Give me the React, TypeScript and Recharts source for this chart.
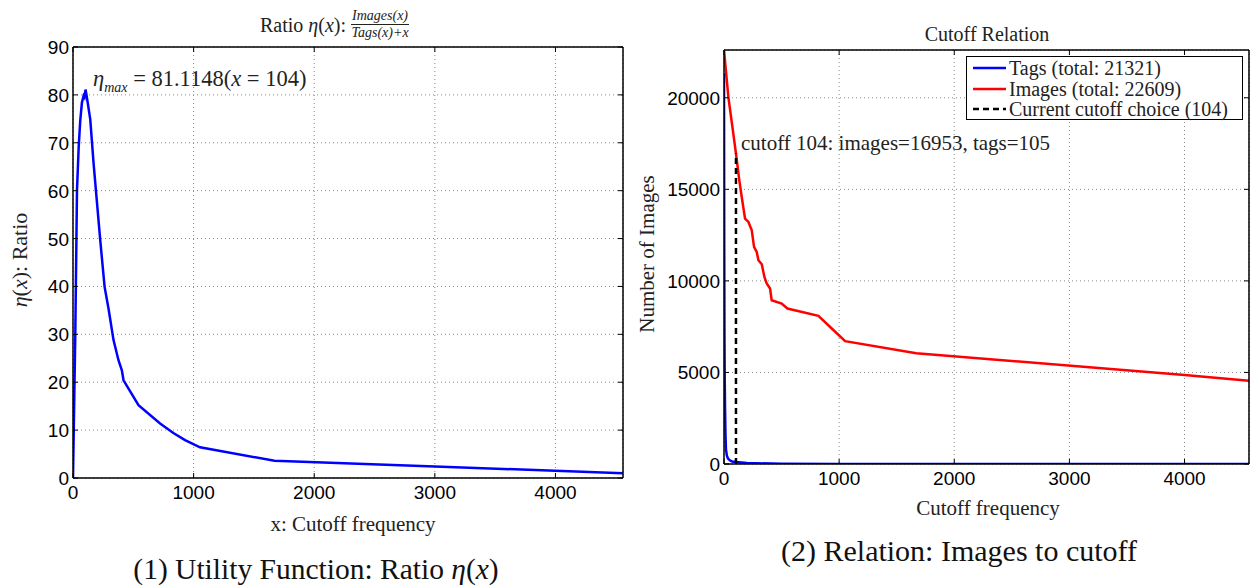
import React from 'react';
import { LineChart, Line, XAxis, YAxis, CartesianGrid } from 'recharts';

// shared x axis (cutoff frequency)
const X_MAX = 4560;
const X_TICKS = [0, 1000, 2000, 3000, 4000];

// (1) ratio eta(x) = Images(x) / (Tags(x) + x)
const RATIO_TICKS = [0, 10, 20, 30, 40, 50, 60, 70, 80, 90];
const RATIO_X = [0, 19, 33, 47, 60, 74, 88, 95, 104, 115, 143, 171, 226, 262, 295, 336, 377, 405, 419, 543, 722, 832, 929, 1053, 1670, 3000, 4560];
const RATIO_Y = [0, 30, 60, 69, 74.6, 78.4, 79.8, 79.5, 81.1148, 79.5, 74.9, 65.6, 49.6, 39.9, 35.3, 28.8, 24.6, 22.5, 20.4, 15.2, 11.4, 9.4, 7.9, 6.4, 3.6, 2.4, 1.0];

// (2) images and tags left after cutoff
const COUNT_MAX = 22609;
const COUNT_TICKS = [0, 5000, 10000, 15000, 20000];
const IMAGES_X = [0, 38, 81, 104, 133, 154, 183, 212, 241, 261, 284, 299, 328, 351, 371, 400, 414, 501, 551, 820, 936, 1052, 1670, 4000, 4560];
const IMAGES_Y = [22609, 20036, 18036, 16953, 15491, 14582, 13400, 13218, 12764, 11855, 11582, 11127, 10909, 10218, 9855, 9582, 8945, 8764, 8491, 8091, 7400, 6709, 6054, 4855, 4544];
const TAGS_X = [0, 2, 4, 6, 9, 13, 17, 25, 35, 50, 70, 104, 200, 500, 1000, 2000, 4560];
const TAGS_Y = [21321, 12000, 7000, 4800, 3100, 1600, 800, 450, 300, 200, 140, 105, 50, 15, 6, 2, 1];
const CUTOFF = 104;
const CUTOFF_IMAGES = 16953;
const CUTOFF_TAGS = 105;

const SERIF = '"Liberation Serif", "DejaVu Serif", serif';
const SANS = '"Liberation Sans", Arial, sans-serif';
const TICK_FONT = 19;

const zip = (xs: number[], ys: number[]) => xs.map((x, i) => ({ x, y: ys[i] }));
const ratioData = zip(RATIO_X, RATIO_Y);
const imagesData = zip(IMAGES_X, IMAGES_Y);
const tagsData = zip(TAGS_X, TAGS_Y);
const cutoffData = [
  { x: CUTOFF, y: 0 },
  { x: CUTOFF, y: CUTOFF_IMAGES },
];

// matlab style ticks: marks point into the box
const BottomTick = (props: any) => {
  const { x, y, payload } = props;
  return (
    <g>
      <line x1={x} x2={x} y1={y} y2={y - 5} stroke="#000" />
      <text x={x} y={y + 21} textAnchor="middle" fontFamily={SANS} fontSize={TICK_FONT} fill="#000">
        {payload.value}
      </text>
    </g>
  );
};
const LeftTick = (props: any) => {
  const { x, y, payload } = props;
  return (
    <g>
      <line x1={x} x2={x + 5} y1={y} y2={y} stroke="#000" />
      <text x={x - 4} y={y + 7} textAnchor="end" fontFamily={SANS} fontSize={TICK_FONT} fill="#000">
        {payload.value}
      </text>
    </g>
  );
};
const TopTick = (props: any) => <line x1={props.x} x2={props.x} y1={props.y} y2={props.y + 5} stroke="#000" />;
const RightTick = (props: any) => <line x1={props.x} x2={props.x - 5} y1={props.y} y2={props.y} stroke="#000" />;

const AXIS_LINE = { stroke: '#000', strokeWidth: 1.5 };

const axes = (yMax: number, yTicks: number[]) => [
  <CartesianGrid key="g" stroke="#8a8a8a" strokeDasharray="1 3" />,
  <XAxis key="xb" dataKey="x" type="number" domain={[0, X_MAX]} ticks={X_TICKS} height={30} tickSize={0} tickMargin={0} tickLine={false} tick={<BottomTick />} axisLine={AXIS_LINE} allowDataOverflow interval={0} />,
  <XAxis key="xt" xAxisId="top" orientation="top" dataKey="x" type="number" domain={[0, X_MAX]} ticks={X_TICKS} height={1} tickSize={0} tickMargin={0} tickLine={false} tick={<TopTick />} axisLine={AXIS_LINE} allowDataOverflow interval={0} />,
  <YAxis key="yl" type="number" domain={[0, yMax]} ticks={yTicks} width={40} tickSize={0} tickMargin={0} tickLine={false} tick={<LeftTick />} axisLine={AXIS_LINE} allowDataOverflow interval={0} />,
  <YAxis key="yr" yAxisId="right" orientation="right" type="number" domain={[0, yMax]} ticks={yTicks} width={1} tickSize={0} tickMargin={0} tickLine={false} tick={<RightTick />} axisLine={AXIS_LINE} allowDataOverflow interval={0} />,
];

const abs = (left: number, top: number, extra: React.CSSProperties = {}): React.CSSProperties => ({
  position: 'absolute',
  left,
  top,
  fontFamily: SERIF,
  color: '#222',
  whiteSpace: 'nowrap',
  lineHeight: 1,
  ...extra,
});

const LegendRow = ({ color, dash, label }: { color: string; dash?: string; label: string }) => (
  <div style={{ display: 'flex', alignItems: 'center', height: 20.5 }}>
    <svg width={36} height={10} style={{ marginRight: 2 }}>
      <line x1={2} x2={35} y1={5} y2={5} stroke={color} strokeWidth={2.5} strokeDasharray={dash} />
    </svg>
    <span style={{ lineHeight: '20px' }}>{label}</span>
  </div>
);

export default function App() {
  return (
    <div style={{ position: 'absolute', left: 0, top: 0, width: 1253, height: 586, background: '#fff', overflow: 'hidden' }}>
      {/* left panel */}
      <div style={{ position: 'absolute', left: 0, top: 0 }}>
        <LineChart width={640} height={586} margin={{ top: 46, right: 16, bottom: 78, left: 33 }}>
          {axes(90, RATIO_TICKS)}
          <Line data={ratioData} dataKey="y" stroke="#0000ff" strokeWidth={2.5} dot={false} isAnimationActive={false} />
        </LineChart>
      </div>
      <div style={abs(260, 9, { fontSize: 20, display: 'flex', alignItems: 'center' })}>
        <span>
          Ratio <i>η</i>(<i>x</i>):&nbsp;
        </span>
        <span style={{ display: 'inline-flex', flexDirection: 'column', alignItems: 'center', fontSize: 14, fontStyle: 'italic' }}>
          <span style={{ borderBottom: '1px solid #222', padding: '0 1px 1px' }}>Images(x)</span>
          <span style={{ paddingTop: 1 }}>Tags(x)+x</span>
        </span>
      </div>
      <div style={abs(93, 68, { fontSize: 22.5 })}>
        <i>η</i>
        <sub style={{ fontSize: 14, fontStyle: 'italic' }}>max</sub> = 81.1148(<i>x</i> = 104)
      </div>
      <div style={abs(20, 260, { fontSize: 22, transform: 'translate(-50%, -50%) rotate(-90deg)' })}>
        <i>η</i>(<i>x</i>): Ratio
      </div>
      <div style={abs(353, 524, { fontSize: 21, transform: 'translate(-50%, -50%)' })}>x: Cutoff frequency</div>
      <div style={abs(316, 570, { fontSize: 29.5, transform: 'translate(-50%, -50%)', color: '#111' })}>
        (1) Utility Function: Ratio <i>η</i>(<i>x</i>)
      </div>

      {/* right panel */}
      <div style={{ position: 'absolute', left: 640, top: 0 }}>
        <LineChart width={613} height={586} margin={{ top: 49, right: 3, bottom: 92, left: 44 }}>
          {axes(COUNT_MAX, COUNT_TICKS)}
          <Line data={imagesData} dataKey="y" stroke="#ff0000" strokeWidth={2.5} dot={false} isAnimationActive={false} />
          <Line data={tagsData} dataKey="y" stroke="#0000ff" strokeWidth={2.5} dot={false} isAnimationActive={false} />
          <Line data={cutoffData} dataKey="y" stroke="#000" strokeWidth={2.5} strokeDasharray="6 4" dot={false} isAnimationActive={false} />
        </LineChart>
      </div>
      <div style={abs(987, 34, { fontSize: 20, transform: 'translate(-50%, -50%)' })}>Cutoff Relation</div>
      <div style={abs(741, 133, { fontSize: 21 })}>
        cutoff {CUTOFF}: images={CUTOFF_IMAGES}, tags={CUTOFF_TAGS}
      </div>
      <div
        style={abs(966, 56, {
          width: 277,
          height: 64,
          border: '1.5px solid #000',
          background: '#fff',
          fontSize: 20,
          padding: '1px 0 0 4px',
          boxSizing: 'border-box',
        })}
      >
        <LegendRow color="#0000ff" label="Tags (total: 21321)" />
        <LegendRow color="#ff0000" label="Images (total: 22609)" />
        <LegendRow color="#000" dash="6 4" label={`Current cutoff choice (${CUTOFF})`} />
      </div>
      <div style={abs(647, 254, { fontSize: 21, transform: 'translate(-50%, -50%) rotate(-90deg)' })}>Number of Images</div>
      <div style={abs(988, 508, { fontSize: 21, transform: 'translate(-50%, -50%)' })}>Cutoff frequency</div>
      <div style={abs(959, 551, { fontSize: 30, transform: 'translate(-50%, -50%)', color: '#111' })}>
        (2) Relation: Images to cutoff
      </div>
    </div>
  );
}
